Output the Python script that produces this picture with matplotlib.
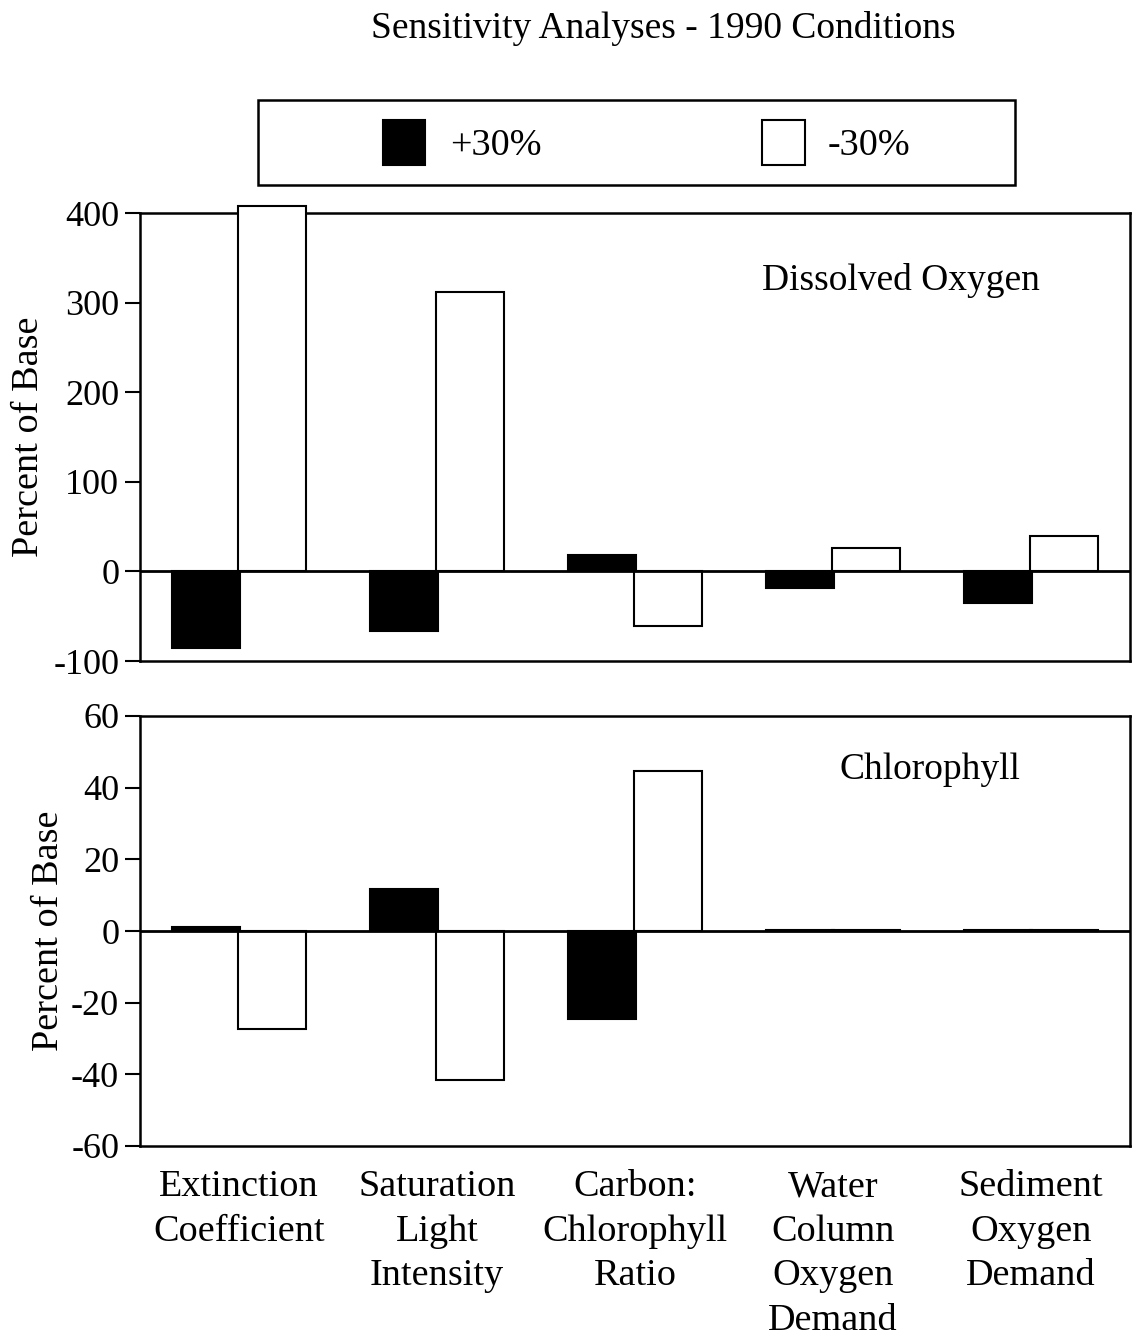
import matplotlib
matplotlib.use("Agg")
import matplotlib.pyplot as plt
import numpy as np
from matplotlib.patches import Rectangle

plt.rcParams['font.family'] = ['Liberation Serif', 'DejaVu Serif']

categories = ["Extinction\nCoefficient", "Saturation\nLight\nIntensity", "Carbon:\nChlorophyll\nRatio",
              "Water\nColumn\nOxygen\nDemand", "Sediment\nOxygen\nDemand"]
do_plus30 = [-86, -66, 18, -18, -35]
do_minus30 = [408, 312, -61, 26, 40]
chl_plus30 = [1, 11.7, -24.6, 0.2, 0.2]
chl_minus30 = [-27.3, -41.6, 44.7, 0.2, 0.2]
do_ticks = [-100, 0, 100, 200, 300, 400]
chl_ticks = [-60, -40, -20, 0, 20, 40, 60]
legend_labels = ["+30%", "-30%"]

W, H = 1134, 1340
fig = plt.figure(figsize=(W/100, H/100), dpi=100)

def ax_rect(x0, y0, x1, y1):
    return [x0/W, 1 - y1/H, (x1-x0)/W, (y1-y0)/H]

def fx(px):
    return px / W

def fy(py):
    return 1 - py / H

ax1 = fig.add_axes(ax_rect(140, 213, 1130, 661))
ax2 = fig.add_axes(ax_rect(140, 716, 1130, 1146))

x = np.arange(len(categories)) + 0.5
bw = 0.345

def draw(ax, plus, minus, ticks, label, lx, ly, ylab_pad):
    b1 = ax.bar(x - bw/2 + 0.005, plus, bw, color='black', edgecolor='black', linewidth=1.5, zorder=3)
    b2 = ax.bar(x + bw/2 - 0.005, minus, bw, color='white', edgecolor='black', linewidth=1.5, zorder=3)
    for b in list(b1) + list(b2):
        b.set_clip_on(False)
    ax.axhline(0, color='black', linewidth=2, zorder=4)
    ax.set_xlim(0, 5)
    ax.set_ylim(ticks[0], ticks[-1])
    ax.set_yticks(ticks)
    ax.set_yticklabels([str(t) for t in ticks], fontsize=26)
    ax.set_xticks([])
    for s in ax.spines.values():
        s.set_linewidth(1.8)
    ax.tick_params(axis='y', direction='out', length=11, width=1.5, pad=4)
    ax.set_ylabel("Percent of Base", fontsize=27.5, labelpad=ylab_pad)
    ax.text(lx, ly, label, transform=ax.transAxes, fontsize=27, ha='right', va='center')

draw(ax1, do_plus30, do_minus30, do_ticks, "Dissolved Oxygen", 0.909, 0.85, 5)
draw(ax2, chl_plus30, chl_minus30, chl_ticks, "Chlorophyll", 0.889, 0.874, 3.5)

for xi, c in zip(x, categories):
    ax2.text(xi, -0.055, c, transform=ax2.get_xaxis_transform(), ha='center', va='top',
             fontsize=27.5, linespacing=1.38)

fig.text(663/W, 1 - 28/H, "Sensitivity Analyses - 1990 Conditions", ha='center', va='center', fontsize=27)

# legend box drawn manually
fig.add_artist(Rectangle((fx(258), fy(185)), fx(1015) - fx(258), fy(100) - fy(185),
                         transform=fig.transFigure, facecolor='white', edgecolor='black', linewidth=1.8))
fig.add_artist(Rectangle((fx(383), fy(165)), fx(425) - fx(383), fy(120) - fy(165),
                         transform=fig.transFigure, facecolor='black', edgecolor='black', linewidth=1.5))
fig.add_artist(Rectangle((fx(762), fy(165)), fx(805) - fx(762), fy(120) - fy(165),
                         transform=fig.transFigure, facecolor='white', edgecolor='black', linewidth=1.5))
fig.text(fx(450), fy(146), legend_labels[0], ha='left', va='center', fontsize=27.5)
fig.text(fx(828), fy(146), legend_labels[1], ha='left', va='center', fontsize=27.5)

fig.savefig("out.png", dpi=100, facecolor='white')
